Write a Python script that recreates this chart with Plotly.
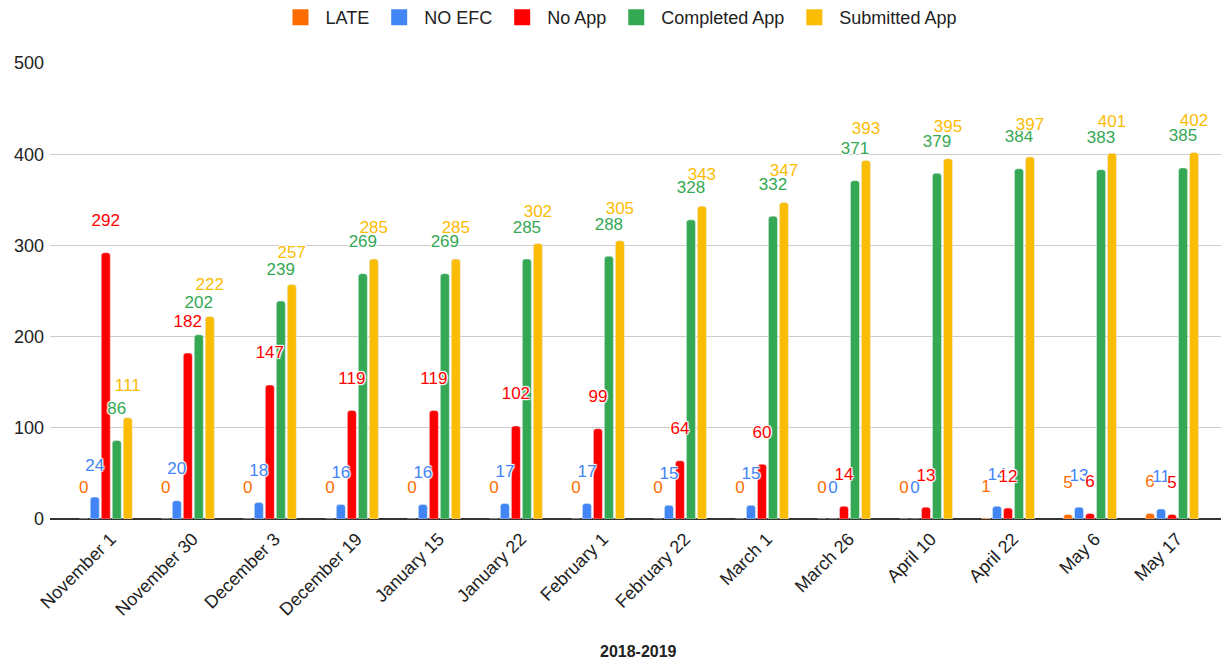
import plotly.graph_objects as go

categories = ["November 1", "November 30", "December 3", "December 19", "January 15",
              "January 22", "February 1", "February 22", "March 1", "March 26",
              "April 10", "April 22", "May 6", "May 17"]
late = [0, 0, 0, 0, 0, 0, 0, 0, 0, 0, 0, 1, 5, 6]
no_efc = [24, 20, 18, 16, 16, 17, 17, 15, 15, 0, 0, 14, 13, 11]
no_app = [292, 182, 147, 119, 119, 102, 99, 64, 60, 14, 13, 12, 6, 5]
completed = [86, 202, 239, 269, 269, 285, 288, 328, 332, 371, 379, 384, 383, 385]
submitted = [111, 222, 257, 285, 285, 302, 305, 343, 347, 393, 395, 397, 401, 402]

series = [
    ("LATE", late, "#ff6d01"),
    ("NO EFC", no_efc, "#4285f4"),
    ("No App", no_app, "#ff0000"),
    ("Completed App", completed, "#34a853"),
    ("Submitted App", submitted, "#fbbc04"),
]

FONT = "Arial, Liberation Sans, sans-serif"
shadow = "1px 1px 1px white, -1px -1px 1px white, 1px -1px 1px white, -1px 1px 1px white, 0 0 2px white"

fig = go.Figure()
for name, vals, col in series:
    fig.add_trace(go.Bar(
        name=name, x=categories, y=vals, marker_color=col,
        offsetgroup=name, legendgroup=name, showlegend=False,
        hoverinfo="x+y+name",
    ))
# legend entries (square swatches)
for name, vals, col in series:
    fig.add_trace(go.Scatter(
        name=name, x=[None], y=[None], mode="markers", offsetgroup=name,
        legendgroup=name, showlegend=True, hoverinfo="skip",
        marker=dict(symbol="square", size=16, color=col),
    ))
# value labels
for name, vals, col in series:
    fig.add_trace(go.Scatter(
        x=categories, y=vals, mode="markers+text", offsetgroup=name,
        legendgroup=name, marker=dict(size=34, opacity=0),
        text=[str(v) for v in vals],
        textposition="top center", showlegend=False, hoverinfo="skip",
        textfont=dict(color=col, size=17, family=FONT, shadow=shadow),
        cliponaxis=False,
    ))

fig.update_layout(
    width=1221, height=652,
    margin=dict(l=42, r=2, t=55, b=141, autoexpand=False),
    barmode="group", bargap=0.33, bargroupgap=0.18,
    scattermode="group", scattergap=0.33,
    barcornerradius=3,
    plot_bgcolor="white", paper_bgcolor="white",
    font=dict(family=FONT, color="#222222", size=18),
    legend=dict(orientation="h", xref="container", yref="paper",
                x=0.5, xanchor="center", y=1.1404, yanchor="top",
                itemwidth=40, itemsizing="trace",
                font=dict(size=18, color="#222222"), traceorder="normal"),
    xaxis=dict(type="category", range=[-0.68, 13.67], tickangle=-45,
               tickfont=dict(size=18, color="#222222"), showgrid=False,
               ticks="", showline=False, ticklabelstandoff=5, ticklabelshift=5),
    yaxis=dict(range=[0, 500], dtick=100, showgrid=True, gridcolor="#cccccc",
               zeroline=True, zerolinecolor="#333333", zerolinewidth=1.5,
               tickfont=dict(size=18, color="#222222"), ticks="", ticklabelstandoff=5),
    annotations=[dict(text="<b>2018-2019</b>", x=0.5, xref="paper", y=-0.2895,
                      yref="paper", showarrow=False, yanchor="middle",
                      font=dict(size=16, color="#222222"))],
)

fig.write_html("out.html")
